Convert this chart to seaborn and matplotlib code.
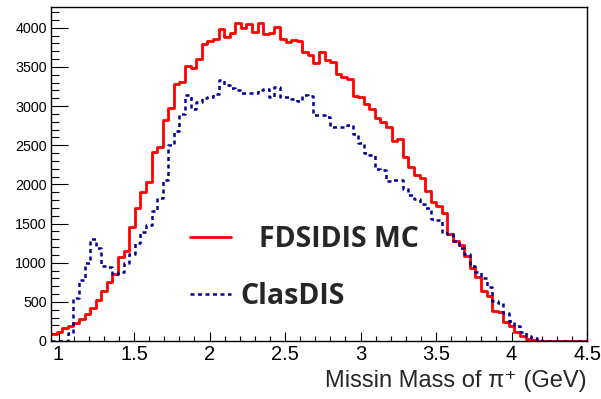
import numpy as np
import pandas as pd
import matplotlib
matplotlib.use("Agg")
import matplotlib.pyplot as plt
import seaborn as sns
from matplotlib.ticker import MultipleLocator

# Histogram binning: 96 bins of missing mass between 0.95 and 4.5 GeV
bin_lo, bin_hi, n_bins = 0.95, 4.5, 96

# Bin contents, FDSIDIS Monte Carlo
fdsidis_mc = [85, 114, 170, 190, 225, 275, 339, 424, 521, 636,
              750, 860, 1072, 1152, 1462, 1695, 1907, 2034, 2417, 2474,
              2823, 2972, 3278, 3312, 3516, 3490, 3597, 3792, 3835, 3856,
              3984, 3877, 3937, 4060, 3992, 4050, 3945, 4062, 3916, 3932,
              4014, 3850, 3820, 3840, 3828, 3688, 3656, 3545, 3692, 3588,
              3567, 3405, 3375, 3345, 3131, 3116, 3028, 2960, 2844, 2802,
              2737, 2557, 2585, 2355, 2227, 2121, 2079, 1915, 1775, 1728,
              1632, 1370, 1280, 1222, 1080, 930, 815, 637, 573, 386,
              367, 246, 191, 110, 63, 30, 8, 2, 0, 0,
              0, 0, 0, 0, 0, 0]

# Bin contents, ClasDIS generator
clasdis = [0, 0, 0, 100, 550, 783, 1000, 1300, 1186, 962,
           945, 860, 877, 1000, 1108, 1250, 1388, 1476, 1663, 1824,
           2058, 2504, 2683, 2900, 3142, 2959, 3057, 3100, 3115, 3150,
           3330, 3265, 3230, 3206, 3172, 3172, 3172, 3205, 3216, 3110,
           3240, 3115, 3112, 3091, 3068, 3135, 3129, 2887, 2880, 2855,
           2738, 2730, 2730, 2759, 2640, 2525, 2405, 2380, 2195, 2185,
           2040, 2057, 2060, 1945, 1860, 1815, 1750, 1700, 1556, 1547,
           1377, 1360, 1271, 1190, 1110, 960, 880, 800, 690, 510,
           480, 360, 260, 190, 120, 70, 35, 15, 6, 2,
           0, 0, 0, 0, 0, 0]

x_ticks = [1, 1.5, 2, 2.5, 3, 3.5, 4, 4.5]
y_ticks = [0, 500, 1000, 1500, 2000, 2500, 3000, 3500, 4000]

edges = np.linspace(bin_lo, bin_hi, n_bins + 1)
centers = 0.5 * (edges[:-1] + edges[1:])
mc_df = pd.DataFrame({"mass": centers, "counts": fdsidis_mc})
clas_df = pd.DataFrame({"mass": centers, "counts": clasdis})

sns.set_style("ticks")
plt.rcParams["font.family"] = ["Liberation Sans", "DejaVu Sans"]

W, H = 601, 399
fig = plt.figure(figsize=(W / 100, H / 100), dpi=100)
ax = fig.add_axes([51 / W, 1 - 341 / H, (587 - 51) / W, (341 - 7) / H])

sns.histplot(data=mc_df, x="mass", weights="counts", bins=n_bins,
             binrange=(bin_lo, bin_hi), element="step", fill=False,
             color="#ff0000", linewidth=2.0, ax=ax)
sns.histplot(data=clas_df, x="mass", weights="counts", bins=n_bins,
             binrange=(bin_lo, bin_hi), element="step", fill=False,
             color="#000099", linewidth=1.8, dashes=(1.6, 1.4), ax=ax)

ax.set_xlim(bin_lo, bin_hi)
ax.set_ylim(0, 4265)
ax.set_xticks(x_ticks)
ax.set_xticklabels([f"{t:g}" for t in x_ticks])
ax.set_yticks(y_ticks)
ax.set_yticklabels([str(t) for t in y_ticks])
ax.xaxis.set_minor_locator(MultipleLocator(0.1))
ax.yaxis.set_minor_locator(MultipleLocator(100))

ax.tick_params(axis="both", which="both", direction="in", colors="black",
               top=False, right=False)
ax.tick_params(axis="x", which="major", length=6.8, width=0.8, labelsize=14.5, pad=3)
ax.tick_params(axis="x", which="minor", length=3.3, width=0.8)
ax.tick_params(axis="y", which="major", length=12, width=0.8, labelsize=10.3, pad=3)
ax.tick_params(axis="y", which="minor", length=6, width=0.8)
for s in ax.spines.values():
    s.set_visible(True)
    s.set_linewidth(1.0)
    s.set_color("black")

ax.set_ylabel("")
ax.set_xlabel("Missin Mass of π⁺ (GeV)", loc="right", fontsize=17, labelpad=4)

lines = ax.get_lines()
h_mc, h_clas = lines[0], lines[1]
leg_font = {"family": ["Open Sans", "DejaVu Sans"], "weight": "bold", "size": 20.5}
fs_px = 20.5 * 100 / 72
leg1 = ax.legend([h_mc], ["FDSIDIS MC"], loc="center left",
                 bbox_to_anchor=(190 / W, 1 - 239.5 / H), bbox_transform=fig.transFigure,
                 frameon=False, borderpad=0, borderaxespad=0, prop=leg_font,
                 handlelength=41 / fs_px, handletextpad=28 / fs_px)
ax.add_artist(leg1)
leg2 = ax.legend([h_clas], ["ClasDIS"], loc="center left",
                 bbox_to_anchor=(190 / W, 1 - 296.5 / H), bbox_transform=fig.transFigure,
                 frameon=False, borderpad=0, borderaxespad=0, prop=leg_font,
                 handlelength=41 / fs_px, handletextpad=9 / fs_px)

fig.savefig("out.png", dpi=100)
